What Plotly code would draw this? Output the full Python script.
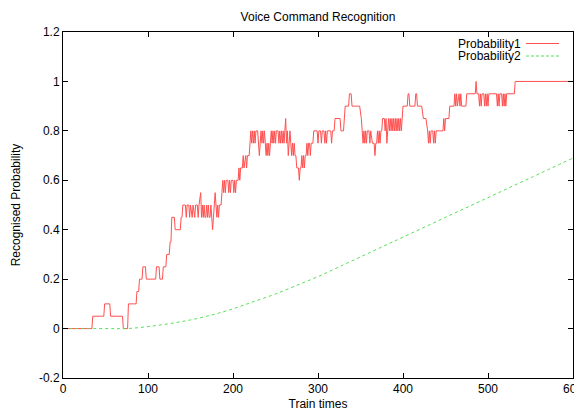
import plotly.graph_objects as go

# Probability1: breakpoints (train time, recognised probability)
train_x1 = [0, 34, 35, 48, 49, 55, 56, 70, 71, 76, 77, 86, 87, 89, 90, 93, 94, 97, 98, 109,
            110, 113, 114, 117, 118, 121, 122, 125, 126, 127, 128, 131, 132, 138, 139, 140, 141, 144, 145, 146,
            148, 149, 150, 152, 153, 155, 156, 158, 159, 160, 162, 163, 164, 165, 166, 167, 168, 169, 170, 171,
            172, 173, 174, 175, 176, 177, 178, 179, 180, 181, 182, 183, 184, 186, 187, 188, 189, 190, 191, 192,
            194, 195, 196, 197, 198, 200, 201, 202, 203, 204, 206, 207, 208, 209, 211, 212, 213, 215, 216, 217,
            219, 220, 221, 222, 223, 224, 225, 226, 227, 229, 230, 231, 232, 233, 234, 235, 236, 237, 238, 239,
            240, 241, 242, 243, 244, 245, 246, 247, 248, 249, 250, 251, 253, 254, 255, 256, 257, 258, 259, 260,
            261, 262, 263, 264, 265, 266, 267, 268, 269, 270, 271, 272, 273, 274, 275, 277, 278, 279, 280, 281,
            282, 283, 284, 285, 286, 287, 288, 289, 290, 291, 292, 294, 295, 299, 300, 301, 303, 304, 305, 307,
            308, 309, 310, 311, 315, 316, 317, 319, 320, 326, 327, 330, 331, 332, 336, 337, 339, 340, 349, 351,
            352, 353, 354, 355, 356, 357, 358, 360, 361, 362, 364, 366, 367, 368, 369, 370, 371, 372, 373, 374,
            375, 376, 378, 379, 380, 381, 382, 383, 384, 385, 386, 387, 388, 389, 390, 391, 392, 393, 394, 395,
            396, 397, 398, 399, 400, 405, 406, 407, 408, 414, 415, 416, 417, 422, 424, 427, 429, 430, 431, 432,
            433, 435, 436, 437, 438, 439, 447, 448, 449, 450, 454, 455, 460, 461, 462, 463, 464, 466, 467, 468,
            469, 474, 475, 485, 486, 487, 489, 490, 491, 492, 493, 495, 496, 497, 498, 499, 500, 501, 510, 511,
            512, 513, 514, 516, 517, 518, 519, 520, 521, 522, 531, 532, 600]
prob1 = [0, 0, 0.05, 0.05, 0.1, 0.1, 0.05, 0.05, 0, 0, 0.1, 0.1, 0.15, 0.15, 0.2, 0.2, 0.25, 0.25, 0.2, 0.2,
         0.25, 0.25, 0.2, 0.2, 0.25, 0.25, 0.3, 0.3, 0.35, 0.35, 0.45, 0.45, 0.4, 0.4, 0.45, 0.45, 0.5, 0.5, 0.45, 0.5,
         0.5, 0.45, 0.5, 0.45, 0.5, 0.45, 0.5, 0.5, 0.45, 0.5, 0.55, 0.45, 0.5, 0.45, 0.5, 0.45, 0.45, 0.5, 0.45, 0.5,
         0.45, 0.45, 0.5, 0.45, 0.4, 0.45, 0.5, 0.55, 0.5, 0.45, 0.5, 0.45, 0.5, 0.5, 0.55, 0.6, 0.55, 0.6, 0.55, 0.6,
         0.6, 0.55, 0.6, 0.55, 0.6, 0.6, 0.55, 0.6, 0.55, 0.6, 0.6, 0.65, 0.6, 0.65, 0.65, 0.7, 0.65, 0.7, 0.65, 0.7,
         0.7, 0.75, 0.8, 0.75, 0.8, 0.75, 0.8, 0.75, 0.8, 0.8, 0.75, 0.7, 0.75, 0.8, 0.75, 0.8, 0.75, 0.8, 0.75, 0.7,
         0.75, 0.7, 0.75, 0.7, 0.75, 0.8, 0.75, 0.8, 0.75, 0.8, 0.75, 0.8, 0.8, 0.75, 0.8, 0.75, 0.8, 0.75, 0.8, 0.75,
         0.8, 0.85, 0.75, 0.8, 0.7, 0.75, 0.8, 0.75, 0.7, 0.75, 0.7, 0.75, 0.7, 0.7, 0.65, 0.65, 0.6, 0.65, 0.65, 0.7,
         0.65, 0.7, 0.65, 0.7, 0.7, 0.75, 0.7, 0.75, 0.75, 0.7, 0.75, 0.75, 0.8, 0.8, 0.75, 0.8, 0.8, 0.75, 0.8, 0.8,
         0.75, 0.8, 0.75, 0.8, 0.8, 0.75, 0.8, 0.8, 0.85, 0.85, 0.8, 0.8, 0.85, 0.9, 0.9, 0.95, 0.95, 0.9, 0.9, 0.85,
         0.8, 0.75, 0.8, 0.75, 0.8, 0.75, 0.8, 0.8, 0.75, 0.8, 0.75, 0.75, 0.7, 0.75, 0.75, 0.8, 0.75, 0.8, 0.75, 0.8,
         0.8, 0.85, 0.85, 0.8, 0.85, 0.75, 0.8, 0.85, 0.8, 0.85, 0.8, 0.85, 0.8, 0.85, 0.8, 0.85, 0.8, 0.85, 0.8, 0.85,
         0.8, 0.85, 0.8, 0.85, 0.9, 0.9, 0.95, 0.95, 0.9, 0.9, 0.95, 0.95, 0.9, 0.9, 0.85, 0.85, 0.8, 0.75, 0.8, 0.75,
         0.8, 0.8, 0.75, 0.8, 0.75, 0.8, 0.8, 0.85, 0.8, 0.85, 0.85, 0.9, 0.9, 0.95, 0.9, 0.95, 0.9, 0.95, 0.9, 0.95,
         0.9, 0.9, 0.95, 0.95, 1.0, 0.95, 0.95, 0.9, 0.95, 0.9, 0.95, 0.95, 0.9, 0.95, 0.9, 0.95, 0.9, 0.95, 0.95, 0.9,
         0.95, 0.9, 0.95, 0.95, 0.9, 0.95, 0.9, 0.95, 0.9, 0.95, 0.95, 1.0, 1.0]

# Probability2: smooth curve read at regular train times
train_x2 = [0, 50, 75, 100, 125, 150, 175, 200, 225, 250, 275, 300, 325, 350, 375, 400, 450, 500, 550, 600]
prob2 = [0, 0, 0, 0.008, 0.02, 0.035, 0.055, 0.08, 0.11, 0.14, 0.175, 0.21, 0.25, 0.29, 0.33, 0.37, 0.45, 0.53, 0.61, 0.69]

x_ticks = [0, 100, 200, 300, 400, 500, 600]
y_ticks = [-0.2, 0, 0.2, 0.4, 0.6, 0.8, 1.0, 1.2]
y_tick_text = ["-0.2", "0", "0.2", "0.4", "0.6", "0.8", "1", "1.2"]

series_names = ["Probability1", "Probability2"]
series_colors = ["#ff5050", "#55e055"]

font = "Liberation Sans, Arial, sans-serif"
FS = 12

# the page body has an 8px default margin; the figure is sized so the plot area
# lands at page px x 63..573, y 32..378
OFF = 8
W, H = 582 - OFF, 412 - OFF

fig = go.Figure()
fig.add_trace(go.Scatter(x=train_x1, y=prob1, mode="lines", name=series_names[0],
                         line=dict(color=series_colors[0], width=1), showlegend=False))
fig.add_trace(go.Scatter(x=train_x2, y=prob2, mode="lines", name=series_names[1],
                         line=dict(color=series_colors[1], width=1, dash="3px,3px", shape="spline"),
                         showlegend=False))

# gnuplot-style key: text right-aligned, sample line to the right
key_y = [43.5, 56]
for i, (nm, col) in enumerate(zip(series_names, series_colors)):
    yy = 1 - (key_y[i] - 32) / 346
    fig.add_annotation(x=(523 - 63) / 510, y=yy, xref="paper", yref="paper", text=nm,
                       showarrow=False, xanchor="right", yanchor="middle",
                       font=dict(family=font, size=FS, color="black"))
    fig.add_shape(type="line", xref="paper", yref="paper",
                  x0=(526 - 63) / 510, x1=(559 - 63) / 510, y0=yy, y1=yy,
                  line=dict(color=col, width=1, dash="solid" if i == 0 else "3px,2px"))

axis_common = dict(showline=True, linecolor="black", linewidth=1, mirror="ticks",
                   ticks="inside", ticklen=5, tickcolor="black", showgrid=False, zeroline=False,
                   automargin=False, ticklabeloverflow="allow",
                   tickfont=dict(family=font, size=FS, color="black"))

fig.update_layout(
    width=W, height=H,
    margin=dict(l=63 - OFF, r=9, t=32 - OFF, b=34),
    paper_bgcolor="white", plot_bgcolor="white",
    title=dict(text="Voice Command Recognition", x=(318 - OFF) / W, xanchor="center",
               y=1 - (17 - OFF) / H, yanchor="middle", font=dict(family=font, size=FS, color="black")),
    xaxis=dict(range=[0, 600], tickvals=x_ticks, title=dict(text="Train times", standoff=4,
               font=dict(family=font, size=FS, color="black")), **axis_common),
    yaxis=dict(range=[-0.2, 1.2], tickvals=y_ticks, ticktext=y_tick_text,
               title=dict(text="Recognised Probability", standoff=15,
                          font=dict(family=font, size=FS, color="black")), **axis_common),
)

fig.write_html("out.html")
